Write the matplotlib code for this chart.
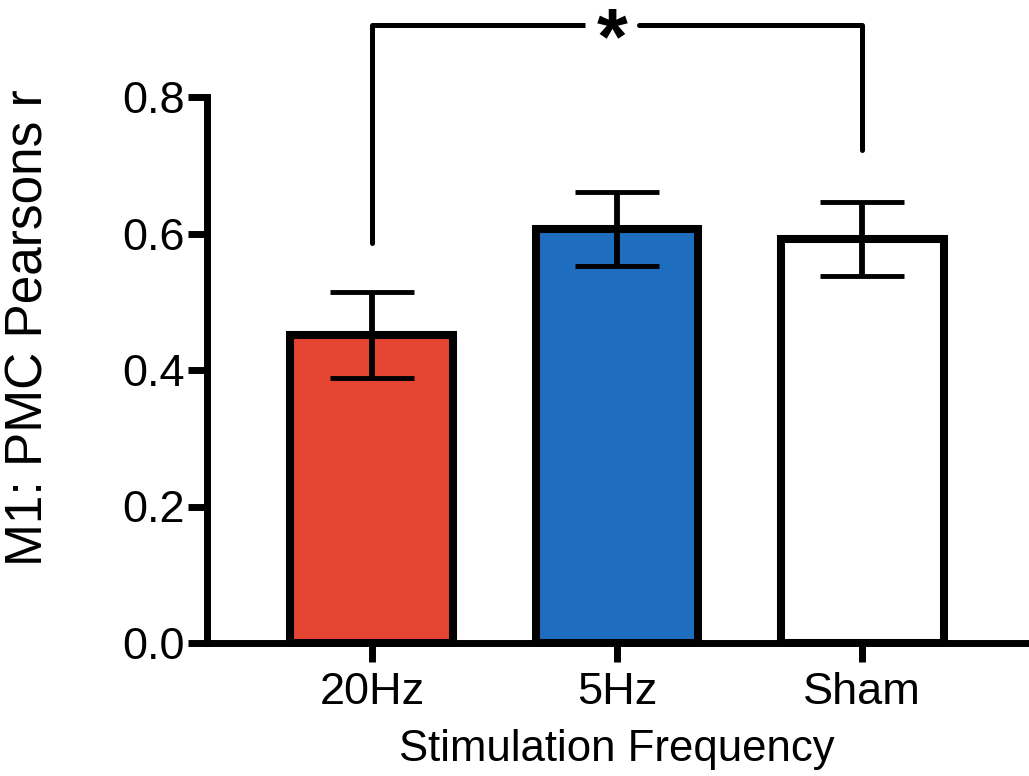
import matplotlib
matplotlib.use("Agg")
import matplotlib.pyplot as plt
import matplotlib.transforms as mtransforms

categories = ["20Hz", "5Hz", "Sham"]
means = [0.452, 0.607, 0.592]
sems = [0.063, 0.054, 0.054]
colors = ["#E64433", "#1E6DBE", "#FFFFFF"]
yticks = [0.0, 0.2, 0.4, 0.6, 0.8]
ytick_labels = ["0.0", "0.2", "0.4", "0.6", "0.8"]
bracket_y = 0.905
bracket_left_bottom = 0.586
bracket_right_bottom = 0.722

plt.rcParams['font.family'] = ['Liberation Sans', 'DejaVu Sans']

fig = plt.figure(figsize=(10.29, 7.76), dpi=100)
ax = fig.add_axes([207/1029, 1 - 643/776, (1027-207)/1029, (643-97)/776])

x = list(range(len(categories)))
ax.bar(x, means, width=0.665, color=colors, edgecolor="black", linewidth=5.8, zorder=2)
ax.errorbar(x, means, yerr=sems, fmt="none", ecolor="black", elinewidth=4.2,
            capsize=30.5, capthick=3.5, zorder=3)

ax.set_xlim(-0.673, 2.673)
ax.set_ylim(0, 0.8)
ax.set_yticks(yticks)
ax.set_yticklabels(ytick_labels)
ax.set_xticks(x)
ax.set_xticklabels(categories)

for s in ["top", "right"]:
    ax.spines[s].set_visible(False)
for s in ["left", "bottom"]:
    ax.spines[s].set_linewidth(5.0)
ax.tick_params(axis="both", width=5.0, length=14, labelsize=32.5, direction="out")
ax.tick_params(axis="y", pad=2)
ax.tick_params(axis="x", pad=7)

# significance bracket
lw_b = 3.6
ax.plot([0, 0], [bracket_left_bottom, bracket_y], color="black", lw=lw_b,
        clip_on=False, solid_capstyle="round", solid_joinstyle="round")
ax.plot([0, 0.87], [bracket_y, bracket_y], color="black", lw=lw_b,
        clip_on=False, solid_capstyle="butt")
ax.plot([1.09, 2, 2], [bracket_y, bracket_y, bracket_right_bottom], color="black", lw=lw_b,
        clip_on=False, solid_capstyle="round", solid_joinstyle="round")
fs_star = 57
star_tr = ax.transData + mtransforms.ScaledTranslation(0, -0.48 * fs_star / 72, fig.dpi_scale_trans)
ax.text(0.98, bracket_y, "*", ha="center", va="baseline", fontsize=fs_star,
        fontweight="bold", clip_on=False, transform=star_tr)

fig.text(617/1029, 1 - 761/776, "Stimulation Frequency", ha="center", va="baseline", fontsize=31.5)
fig.text(29/1029, 1 - 328/776, "M1: PMC Pearsons r", ha="center", va="center",
         rotation=90, fontsize=37)

fig.savefig("out.png", dpi=100)
